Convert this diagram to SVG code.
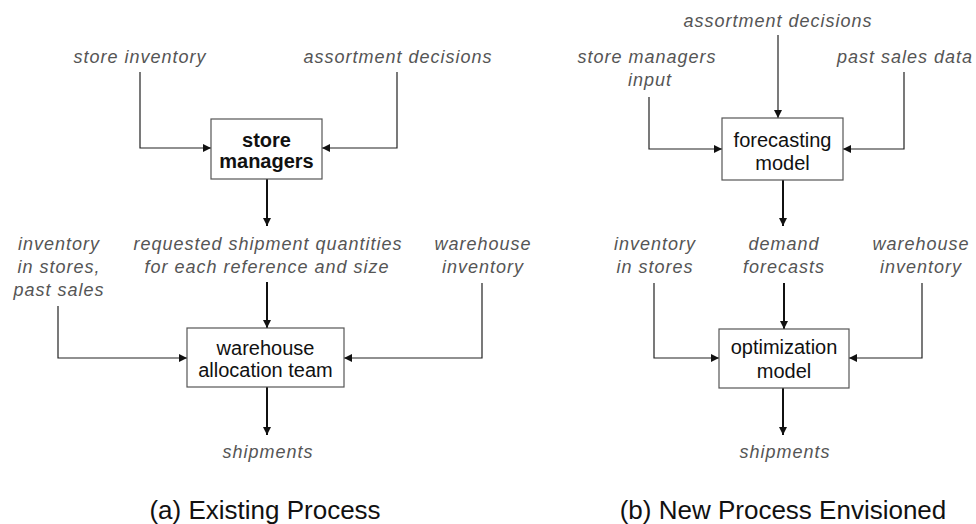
<svg xmlns="http://www.w3.org/2000/svg" width="976" height="524" viewBox="0 0 976 524">
<style>
.lbl{font-family:"Liberation Sans",Arial,sans-serif;font-style:italic;font-size:18px;fill:#555;letter-spacing:1px;text-anchor:middle}
.box{fill:#fff;stroke:#555;stroke-width:1.2}
.bt{font-family:"Liberation Sans",Arial,sans-serif;font-size:20px;fill:#111;text-anchor:middle}
.cap{font-family:"Liberation Sans",Arial,sans-serif;font-size:26px;fill:#111;text-anchor:middle}
.thin{fill:none;stroke:#222;stroke-width:1.2;marker-end:url(#ah)}
.thick{fill:none;stroke:#111;stroke-width:2;marker-end:url(#ah)}
</style>
<defs>
<marker id="ah" markerUnits="userSpaceOnUse" markerWidth="10" markerHeight="8" refX="8" refY="4" orient="auto">
<path d="M0,0 L8,4 L0,8 Z" fill="#111"/>
</marker>
</defs>
<rect width="976" height="524" fill="#fff"/>

<g id="connectors">
<path class="thin" d="M140,72 V148 H211"/>
<path class="thin" d="M397,72 V148 H322"/>
<path class="thick" d="M267,179 V226"/>
<path class="thick" d="M267,282 V328"/>
<path class="thin" d="M58,306 V358 H187"/>
<path class="thin" d="M482,283 V358 H344"/>
<path class="thick" d="M267,387 V435"/>
<path class="thin" d="M649,97 V149 H722"/>
<path class="thin" d="M778,35 V118"/>
<path class="thin" d="M904,72 V149 H843"/>
<path class="thick" d="M783,180 V226"/>
<path class="thick" d="M784,283 V329"/>
<path class="thin" d="M654,283 V358 H719"/>
<path class="thin" d="M922,283 V358 H849"/>
<path class="thick" d="M783,387 V435"/>
</g>

<g id="store-managers">
<rect class="box" x="211" y="119" width="111" height="60"/>
<text class="bt" font-weight="bold" font-size="19" x="266.5" y="147">store</text>
<text class="bt" font-weight="bold" font-size="19" x="266.5" y="168">managers</text>
</g>
<g id="warehouse-allocation-team">
<rect class="box" x="187" y="328" width="157" height="59"/>
<text class="bt" x="265.5" y="355">warehouse</text>
<text class="bt" x="265.5" y="377">allocation team</text>
</g>
<g id="forecasting-model">
<rect class="box" x="722" y="118" width="121" height="62"/>
<text class="bt" x="782.5" y="147">forecasting</text>
<text class="bt" x="782.5" y="170">model</text>
</g>
<g id="optimization-model">
<rect class="box" x="719" y="329" width="130" height="59"/>
<text class="bt" x="784" y="354">optimization</text>
<text class="bt" x="784" y="378">model</text>
</g>

<g id="labels-a">
<text class="lbl" x="140" y="63">store inventory</text>
<text class="lbl" x="398" y="63">assortment decisions</text>
<text class="lbl" x="268" y="250">requested shipment quantities</text>
<text class="lbl" x="267" y="273">for each reference and size</text>
<text class="lbl" x="59" y="250">inventory</text>
<text class="lbl" x="59" y="273">in stores,</text>
<text class="lbl" x="59" y="296">past sales</text>
<text class="lbl" x="483" y="250">warehouse</text>
<text class="lbl" x="483" y="273">inventory</text>
<text class="lbl" x="268" y="458">shipments</text>
</g>
<g id="labels-b">
<text class="lbl" x="778" y="27">assortment decisions</text>
<text class="lbl" x="647" y="63">store managers</text>
<text class="lbl" x="650" y="86">input</text>
<text class="lbl" x="905" y="63">past sales data</text>
<text class="lbl" x="655" y="250">inventory</text>
<text class="lbl" x="655" y="273">in stores</text>
<text class="lbl" x="784" y="250">demand</text>
<text class="lbl" x="784" y="273">forecasts</text>
<text class="lbl" x="921" y="250">warehouse</text>
<text class="lbl" x="921" y="273">inventory</text>
<text class="lbl" x="785" y="458">shipments</text>
</g>

<g id="captions">
<text class="cap" x="265" y="519">(a) Existing Process</text>
<text class="cap" x="783" y="519">(b) New Process Envisioned</text>
</g>
</svg>
